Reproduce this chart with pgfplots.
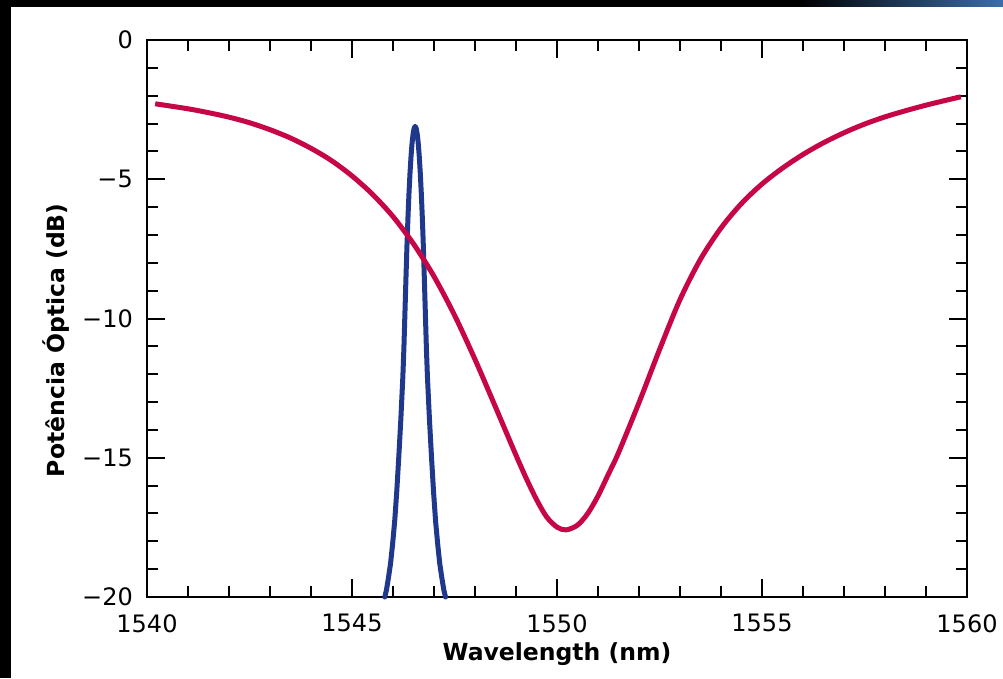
\documentclass[border=0pt]{standalone}
\usepackage{fontspec}
\setmainfont{DejaVu Sans}
\usepackage{pgfplots}
\pgfplotsset{compat=1.18}
\definecolor{cred}{RGB}{198,6,70}
\definecolor{cblue}{RGB}{32,56,140}
\definecolor{slideblue}{RGB}{60,110,170}
\begin{document}
\begin{tikzpicture}[x=1pt,y=1pt]
\fill[white] (0,0) rectangle (1003,678);
\fill[black] (0,671) rectangle (1003,678);
\shade[left color=black, right color=slideblue] (800,671) rectangle (1003,678);
\fill[black] (0,0) rectangle (11,678);
\begin{axis}[
  at={(147pt,81pt)}, anchor=south west,
  scale only axis, width=820pt, height=557pt,
  xmin=1540, xmax=1560, ymin=-20, ymax=0,
  xtick={1540,1545,1550,1555,1560},
  xticklabels={1540,1545,1550,1555,1560},
  ytick={-20,-15,-10,-5,0},
  yticklabels={−20,−15,−10,−5,0},
  minor x tick num=4, minor y tick num=4,
  tick align=inside,
  major tick length=18pt, minor tick length=11pt,
  tick style={line width=2pt, black},
  axis line style={line width=2pt, black},
  tick label style={font=\fontsize{24}{28}\selectfont, inner sep=0pt},
  xticklabel style={anchor=north, yshift=-17pt},
  yticklabel style={anchor=east, xshift=-14pt},
  xlabel={Wavelength (nm)},
  ylabel={Potência Óptica (dB)},
  every axis x label/.style={at={(axis description cs:0.5,-0.1131)}, anchor=base,
     font=\fontsize{23.5}{28}\selectfont\bfseries},
  every axis y label/.style={at={(axis description cs:-0.1,0.461)}, rotate=90, anchor=base,
     font=\fontsize{23.5}{28}\selectfont\bfseries},
  clip=false,
]
\addplot[color=cblue, line width=5pt, line join=round, line cap=round] coordinates {
(1545.80,-20.0) (1545.84,-19.75) (1545.89,-19.3) (1545.94,-18.8) (1545.99,-18.1)
(1546.04,-17.3) (1546.09,-16.25) (1546.14,-15.0) (1546.19,-13.65) (1546.24,-12.1)
(1546.265,-11.1) (1546.29,-9.85) (1546.315,-8.6) (1546.34,-7.4) (1546.365,-6.37)
(1546.39,-5.50) (1546.415,-4.77) (1546.44,-4.17) (1546.465,-3.70) (1546.49,-3.37)
(1546.515,-3.17) (1546.54,-3.10) (1546.565,-3.17) (1546.59,-3.37) (1546.615,-3.70)
(1546.64,-4.17) (1546.665,-4.77) (1546.69,-5.50) (1546.715,-6.37) (1546.74,-7.4)
(1546.765,-8.6) (1546.79,-9.85) (1546.815,-11.1) (1546.84,-12.1) (1546.89,-13.65)
(1546.94,-15.0) (1546.99,-16.25) (1547.04,-17.3) (1547.09,-18.1) (1547.14,-18.8)
(1547.19,-19.3) (1547.24,-19.75) (1547.28,-20.0)
};
\addplot[color=cred, line width=5pt, smooth, line join=round] coordinates {
(1540.2,-2.29) (1541.0,-2.47) (1541.5,-2.61) (1542.0,-2.77) (1542.5,-2.97)
(1543.0,-3.22) (1543.5,-3.52) (1544.0,-3.89) (1544.5,-4.33) (1545.0,-4.88)
(1545.5,-5.54) (1546.0,-6.34) (1546.5,-7.32) (1547.0,-8.49) (1547.5,-9.88)
(1548.0,-11.47) (1548.5,-13.18) (1549.0,-14.91) (1549.25,-15.74) (1549.5,-16.50)
(1549.75,-17.13) (1550.0,-17.49) (1550.22,-17.59) (1550.5,-17.42) (1550.75,-17.0)
(1551.0,-16.37) (1551.25,-15.60) (1551.5,-14.82) (1552.0,-13.02) (1552.5,-11.12)
(1553.0,-9.32) (1553.5,-7.87) (1554.0,-6.75) (1554.5,-5.87) (1555.0,-5.17)
(1555.5,-4.60) (1556.0,-4.11) (1556.5,-3.69) (1557.0,-3.33) (1557.5,-3.02)
(1558.0,-2.76) (1558.5,-2.54) (1559.0,-2.34) (1559.5,-2.16) (1559.85,-2.04)
};
\end{axis}
\pgfresetboundingbox
\useasboundingbox (0,0) rectangle (1003,678);
\end{tikzpicture}
\end{document}
